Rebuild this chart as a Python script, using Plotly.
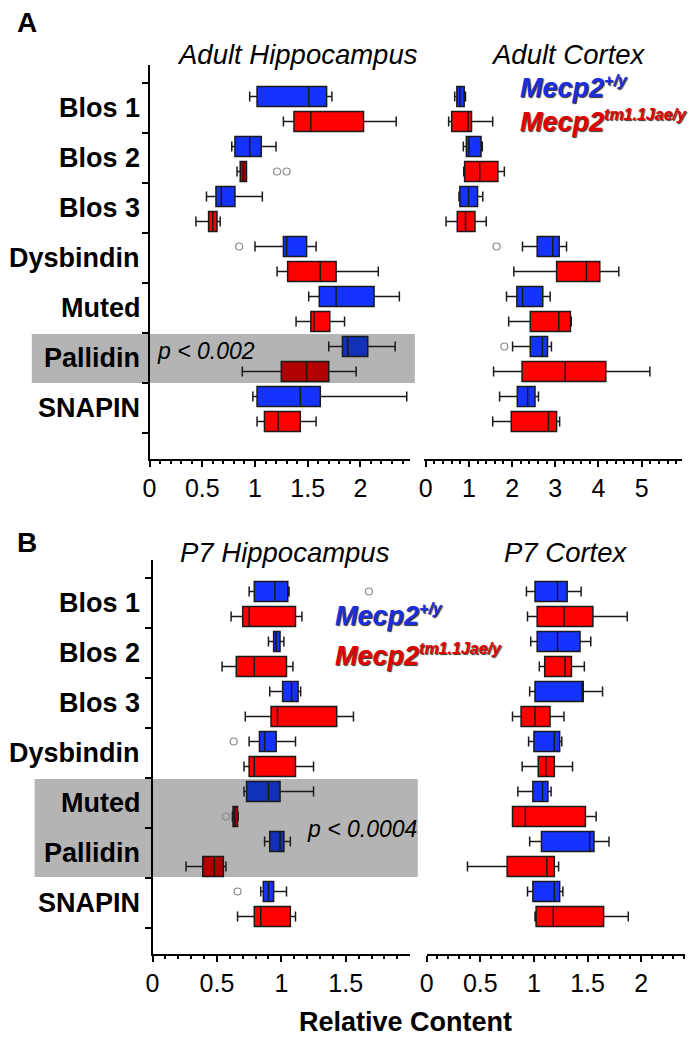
import plotly.graph_objects as go

W, H = 696, 1039
FONT = "Liberation Sans, Arial, sans-serif"

categories = ["Blos 1", "Blos 2", "Blos 3", "Dysbindin", "Muted", "Pallidin", "SNAPIN"]

# each entry: (lower whisker, q1, median, q3, upper whisker)
adult_hippo_wt = [(0.95, 1.02, 1.51, 1.68, 1.73), (0.78, 0.81, 0.95, 1.06, 1.20),
                  (0.54, 0.63, 0.68, 0.81, 1.07), (1.00, 1.27, 1.30, 1.49, 1.58),
                  (1.51, 1.61, 1.77, 2.13, 2.37), (1.70, 1.83, 1.88, 2.07, 2.33),
                  (0.98, 1.02, 1.43, 1.62, 2.44)]
adult_hippo_mut = [(1.27, 1.37, 1.53, 2.03, 2.34), (0.83, 0.86, 0.89, 0.92, 0.92),
                   (0.44, 0.56, 0.60, 0.64, 0.67), (1.21, 1.31, 1.62, 1.77, 2.17),
                   (1.39, 1.53, 1.56, 1.71, 1.85), (0.88, 1.25, 1.49, 1.70, 1.96),
                   (1.02, 1.09, 1.22, 1.43, 1.58)]
adult_cortex_wt = [(0.67, 0.72, 0.79, 0.89, 0.92), (0.87, 0.94, 1.00, 1.28, 1.31),
                   (0.77, 0.79, 0.99, 1.20, 1.32), (2.24, 2.58, 2.94, 3.09, 3.26),
                   (1.87, 2.11, 2.24, 2.71, 2.88), (2.01, 2.42, 2.70, 2.82, 2.91),
                   (1.71, 2.12, 2.36, 2.53, 2.61)]
adult_cortex_mut = [(0.53, 0.60, 0.98, 1.06, 1.55), (0.88, 0.90, 1.25, 1.67, 1.82),
                    (0.47, 0.73, 0.92, 1.14, 1.40), (2.04, 3.03, 3.72, 4.03, 4.47),
                    (1.92, 2.42, 3.08, 3.35, 3.37), (1.57, 2.23, 3.23, 4.17, 5.19),
                    (1.55, 1.98, 2.84, 3.03, 3.10)]
p7_hippo_wt = [(0.75, 0.79, 0.95, 1.05, 1.06), (0.90, 0.94, 0.96, 0.99, 1.02),
               (0.91, 1.01, 1.08, 1.13, 1.15), (0.75, 0.83, 0.87, 0.96, 1.11),
               (0.71, 0.73, 0.90, 0.99, 1.25), (0.87, 0.91, 0.99, 1.02, 1.07),
               (0.84, 0.86, 0.90, 0.94, 1.04)]
p7_hippo_mut = [(0.61, 0.70, 0.75, 1.11, 1.16), (0.54, 0.65, 0.79, 1.04, 1.09),
                (0.72, 0.92, 0.97, 1.43, 1.56), (0.71, 0.75, 0.79, 1.11, 1.25),
                (0.62, 0.625, 0.64, 0.66, 0.665), (0.26, 0.39, 0.48, 0.55, 0.57),
                (0.66, 0.79, 0.84, 1.07, 1.11)]
p7_cortex_wt = [(0.93, 1.01, 1.22, 1.31, 1.44), (0.97, 1.03, 1.22, 1.43, 1.53),
                (0.96, 1.01, 1.45, 1.46, 1.64), (0.95, 1.00, 1.19, 1.24, 1.26),
                (0.85, 0.99, 1.08, 1.13, 1.16), (0.96, 1.07, 1.52, 1.56, 1.70),
                (0.94, 0.99, 1.19, 1.24, 1.27)]
p7_cortex_mut = [(0.94, 1.03, 1.28, 1.55, 1.87), (1.05, 1.10, 1.29, 1.35, 1.47),
                 (0.80, 0.88, 1.01, 1.15, 1.28), (0.89, 1.04, 1.11, 1.19, 1.36),
                 (0.80, 0.80, 0.92, 1.48, 1.58), (0.38, 0.75, 1.12, 1.19, 1.23),
                 (1.01, 1.02, 1.18, 1.65, 1.88)]

# outliers: (category, genotype, value)
adult_hippo_outliers = [("Dysbindin", "wt", 0.85), ("Blos 2", "mut", 1.21), ("Blos 2", "mut", 1.30)]
adult_cortex_outliers = [("Dysbindin", "wt", 1.64), ("Pallidin", "wt", 1.82)]
p7_hippo_outliers = [("Blos 1", "wt", 1.68), ("Dysbindin", "wt", 0.63),
                     ("Muted", "mut", 0.57), ("SNAPIN", "wt", 0.66)]
p7_cortex_outliers = []

panel_titles = ["Adult Hippocampus", "Adult Cortex", "P7 Hippocampus", "P7 Cortex"]
x_tick_step = [0.5, 1, 0.5, 0.5]
x_minor_step = [0.1, 0.2, 0.1, 0.1]

BLUE, RED = "#1433ff", "#ff0000"
DBLUE, DRED = "#1230b8", "#b00000"
EDGE = "#1a1a1a"

def px(x):
    return x / W

def py(y):
    return 1 - y / H

# layout geometry (pixels)
x_domains = [(144, 407), (421.7, 681.7), (147, 406.6), (424, 685)]
x_ranges = [[0, 2.47], [-0.03, 5.93], [0, 1.995], [0, 2.41]]
y_domains = [(65, 459), (65, 459), (560, 954), (560, 954)]
y_range = [7.02, -0.86]
OFF_WT, OFF_MUT, BOXW = -0.23, 0.27, 0.4

# darker boxes (inside the shaded band / very narrow boxes)
dark = [
    {("Pallidin", "wt"), ("Pallidin", "mut"), ("Blos 2", "mut")},
    set(),
    {("Muted", "wt"), ("Pallidin", "wt"), ("Muted", "mut"), ("Pallidin", "mut")},
    set(),
]

panels = [
    (adult_hippo_wt, adult_hippo_mut, adult_hippo_outliers),
    (adult_cortex_wt, adult_cortex_mut, adult_cortex_outliers),
    (p7_hippo_wt, p7_hippo_mut, p7_hippo_outliers),
    (p7_cortex_wt, p7_cortex_mut, p7_cortex_outliers),
]

fig = go.Figure()
for k, (wt, mut, outl) in enumerate(panels):
    xa = "x" if k == 0 else f"x{k+1}"
    ya = "y" if k == 0 else f"y{k+1}"
    for geno, series, off in (("wt", wt, OFF_WT), ("mut", mut, OFF_MUT)):
        for i, cat in enumerate(categories):
            lo, q1, med, q3, hi = series[i]
            if geno == "wt":
                col = DBLUE if (cat, geno) in dark[k] else BLUE
            else:
                col = DRED if (cat, geno) in dark[k] else RED
            fig.add_trace(go.Box(
                orientation="h", y=[i + off], q1=[q1], median=[med], q3=[q3],
                lowerfence=[lo], upperfence=[hi], fillcolor=col,
                line=dict(color=EDGE, width=1.5), width=BOXW, whiskerwidth=0.5,
                boxpoints=False, showlegend=False, hoverinfo="skip",
                xaxis=xa, yaxis=ya))
    if outl:
        fig.add_trace(go.Scatter(
            x=[v for c, g, v in outl],
            y=[categories.index(c) + (OFF_WT if g == "wt" else OFF_MUT) for c, g, v in outl],
            mode="markers",
            marker=dict(symbol="circle-open", size=7, color="#8a8a8a", line=dict(width=1.2)),
            showlegend=False, hoverinfo="skip", xaxis=xa, yaxis=ya))

layout = dict(
    width=W, height=H, autosize=False,
    margin=dict(l=0, r=0, t=0, b=0),
    paper_bgcolor="white", plot_bgcolor="rgba(0,0,0,0)",
    boxmode="overlay", showlegend=False,
    font=dict(family=FONT, color="black"),
)
for k in range(4):
    xk = "xaxis" if k == 0 else f"xaxis{k+1}"
    yk = "yaxis" if k == 0 else f"yaxis{k+1}"
    ya_name = "y" if k == 0 else f"y{k+1}"
    xa_name = "x" if k == 0 else f"x{k+1}"
    d0, d1 = x_domains[k]
    layout[xk] = dict(
        domain=[px(d0), px(d1)], range=x_ranges[k], anchor=ya_name,
        showline=True, linewidth=2, linecolor="black", mirror=False,
        ticks="outside", ticklen=6, tickwidth=2, tickcolor="black",
        tick0=0, dtick=x_tick_step[k],
        minor=dict(dtick=x_minor_step[k], tick0=0, ticks="outside", ticklen=3,
                   tickwidth=1.5, tickcolor="black"),
        showgrid=False, zeroline=False,
        tickfont=dict(family=FONT, size=25, color="black"),
    )
    e0, e1 = y_domains[k]
    left = k in (0, 2)
    layout[yk] = dict(
        domain=[py(e1), py(e0)], range=y_range, anchor=xa_name,
        showline=left, linewidth=2, linecolor="black",
        ticks="outside" if left else "", ticklen=6, tickwidth=2, tickcolor="black",
        tickvals=[i - 0.5 for i in range(len(categories) + 1)],
        showticklabels=False, showgrid=False, zeroline=False,
    )

shapes = [
    dict(type="rect", xref="paper", yref="paper", x0=px(25), x1=px(412),
         y0=py(383), y1=py(334), fillcolor="#b4b4b4", line=dict(width=0), layer="below"),
    dict(type="rect", xref="paper", yref="paper", x0=px(28), x1=px(415),
         y0=py(877), y1=py(779), fillcolor="#b4b4b4", line=dict(width=0), layer="below"),
]
layout["shapes"] = shapes

ann = []
# category labels
for k, yref in ((0, "y"), (2, "y3")):
    for i, cat in enumerate(categories):
        ann.append(dict(text=f"<b>{cat}</b>", xref="paper", yref=yref, x=px(136), y=i,
                        xanchor="right", yanchor="middle", showarrow=False,
                        font=dict(family=FONT, size=27, color="black")))
# panel titles
title_pos = [(293, 54), (567, 54), (281, 552), (565, 552)]
for t, (tx, ty) in zip(panel_titles, title_pos):
    ann.append(dict(text=f"<i>{t}</i>", xref="paper", yref="paper", x=px(tx), y=py(ty),
                    xanchor="center", yanchor="middle", showarrow=False,
                    font=dict(family=FONT, size=27.5, color="black")))
# panel letters
for letter, (lx, ly) in (("A", (20, 22)), ("B", (20, 542))):
    ann.append(dict(text=f"<b>{letter}</b>", xref="paper", yref="paper", x=px(lx), y=py(ly),
                    xanchor="center", yanchor="middle", showarrow=False,
                    font=dict(family=FONT, size=28, color="black")))
# legends
SUP = '<sup><span style="font-size:16px">{}</span></sup>'
legend_pos = [((516, 87), (516, 121)), ((329, 615), (329, 655))]
for (bx, by), (rx, ry) in legend_pos:
    ann.append(dict(text="<b><i>Mecp2" + SUP.format("+/y") + "</i></b>", xref="paper", yref="paper",
                    x=px(bx), y=py(by), xanchor="left", yanchor="middle", showarrow=False,
                    font=dict(family=FONT, size=27, color="#1a2fe0", shadow="1px 1px 1px #333")))
    ann.append(dict(text="<b><i>Mecp2" + SUP.format("tm1.1Jae/y") + "</i></b>", xref="paper",
                    yref="paper", x=px(rx), y=py(ry), xanchor="left", yanchor="middle",
                    showarrow=False,
                    font=dict(family=FONT, size=27, color="#e00000", shadow="1px 1px 1px #333")))
# p-values
ann.append(dict(text="<i>p &lt; 0.002</i>", xref="paper", yref="paper", x=px(150), y=py(351),
                xanchor="left", yanchor="middle", showarrow=False,
                font=dict(family=FONT, size=23, color="black")))
ann.append(dict(text="<i>p &lt; 0.0004</i>", xref="paper", yref="paper", x=px(416), y=py(829),
                xanchor="right", yanchor="middle", showarrow=False,
                font=dict(family=FONT, size=23, color="black")))
# x axis title
ann.append(dict(text="<b>Relative Content</b>", xref="paper", yref="paper", x=px(403), y=py(1022),
                xanchor="center", yanchor="middle", showarrow=False,
                font=dict(family=FONT, size=27, color="black")))
layout["annotations"] = ann

fig.update_layout(**layout)
fig.write_html("out.html", config={"displayModeBar": False},
               post_script="document.body.style.margin='0px';")
